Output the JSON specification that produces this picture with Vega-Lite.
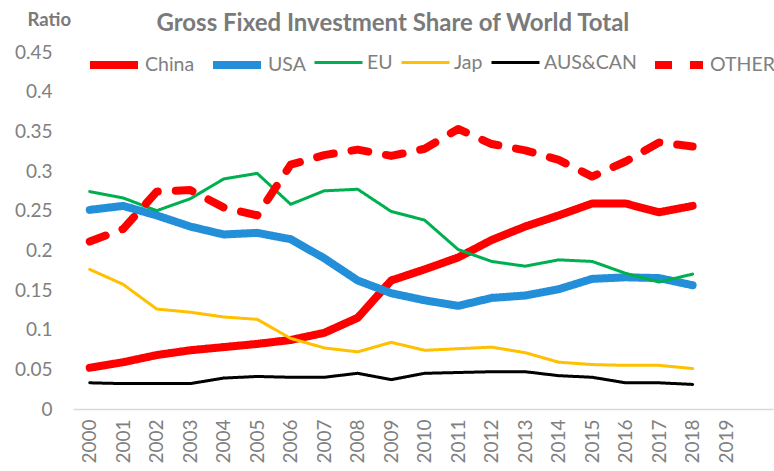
{
  "$schema": "https://vega.github.io/schema/vega-lite/v6.json",
  "width": 700,
  "height": 357,
  "autosize": {"type": "none"},
  "padding": {"left": 73, "top": 52, "right": 1, "bottom": 62},
  "background": "white",
  "title": {
    "text": "Gross Fixed Investment Share of World Total",
    "anchor": "start",
    "dx": 142,
    "offset": -26,
    "font": "Lato",
    "fontSize": 24,
    "fontWeight": "bold",
    "color": "#7a7a7a"
  },
  "config": {
    "view": {"stroke": null},
    "font": "Lato"
  },
  "data": {"values": [
    {"year":2000,"region":"China","value":0.052},{"year":2001,"region":"China","value":0.059},{"year":2002,"region":"China","value":0.068},{"year":2003,"region":"China","value":0.074},{"year":2004,"region":"China","value":0.078},{"year":2005,"region":"China","value":0.082},{"year":2006,"region":"China","value":0.087},{"year":2007,"region":"China","value":0.096},{"year":2008,"region":"China","value":0.115},{"year":2009,"region":"China","value":0.162},{"year":2010,"region":"China","value":0.176},{"year":2011,"region":"China","value":0.191},{"year":2012,"region":"China","value":0.213},{"year":2013,"region":"China","value":0.230},{"year":2014,"region":"China","value":0.244},{"year":2015,"region":"China","value":0.259},{"year":2016,"region":"China","value":0.259},{"year":2017,"region":"China","value":0.248},{"year":2018,"region":"China","value":0.256},
    {"year":2000,"region":"USA","value":0.251},{"year":2001,"region":"USA","value":0.256},{"year":2002,"region":"USA","value":0.244},{"year":2003,"region":"USA","value":0.230},{"year":2004,"region":"USA","value":0.220},{"year":2005,"region":"USA","value":0.222},{"year":2006,"region":"USA","value":0.214},{"year":2007,"region":"USA","value":0.190},{"year":2008,"region":"USA","value":0.162},{"year":2009,"region":"USA","value":0.146},{"year":2010,"region":"USA","value":0.137},{"year":2011,"region":"USA","value":0.130},{"year":2012,"region":"USA","value":0.140},{"year":2013,"region":"USA","value":0.143},{"year":2014,"region":"USA","value":0.151},{"year":2015,"region":"USA","value":0.164},{"year":2016,"region":"USA","value":0.166},{"year":2017,"region":"USA","value":0.165},{"year":2018,"region":"USA","value":0.156},
    {"year":2000,"region":"EU","value":0.274},{"year":2001,"region":"EU","value":0.266},{"year":2002,"region":"EU","value":0.250},{"year":2003,"region":"EU","value":0.265},{"year":2004,"region":"EU","value":0.290},{"year":2005,"region":"EU","value":0.297},{"year":2006,"region":"EU","value":0.258},{"year":2007,"region":"EU","value":0.275},{"year":2008,"region":"EU","value":0.277},{"year":2009,"region":"EU","value":0.249},{"year":2010,"region":"EU","value":0.238},{"year":2011,"region":"EU","value":0.201},{"year":2012,"region":"EU","value":0.186},{"year":2013,"region":"EU","value":0.180},{"year":2014,"region":"EU","value":0.188},{"year":2015,"region":"EU","value":0.186},{"year":2016,"region":"EU","value":0.171},{"year":2017,"region":"EU","value":0.160},{"year":2018,"region":"EU","value":0.170},
    {"year":2000,"region":"Jap","value":0.176},{"year":2001,"region":"Jap","value":0.157},{"year":2002,"region":"Jap","value":0.126},{"year":2003,"region":"Jap","value":0.122},{"year":2004,"region":"Jap","value":0.116},{"year":2005,"region":"Jap","value":0.113},{"year":2006,"region":"Jap","value":0.089},{"year":2007,"region":"Jap","value":0.077},{"year":2008,"region":"Jap","value":0.072},{"year":2009,"region":"Jap","value":0.084},{"year":2010,"region":"Jap","value":0.074},{"year":2011,"region":"Jap","value":0.076},{"year":2012,"region":"Jap","value":0.078},{"year":2013,"region":"Jap","value":0.071},{"year":2014,"region":"Jap","value":0.059},{"year":2015,"region":"Jap","value":0.056},{"year":2016,"region":"Jap","value":0.055},{"year":2017,"region":"Jap","value":0.055},{"year":2018,"region":"Jap","value":0.051},
    {"year":2000,"region":"AUS&CAN","value":0.033},{"year":2001,"region":"AUS&CAN","value":0.032},{"year":2002,"region":"AUS&CAN","value":0.032},{"year":2003,"region":"AUS&CAN","value":0.032},{"year":2004,"region":"AUS&CAN","value":0.039},{"year":2005,"region":"AUS&CAN","value":0.041},{"year":2006,"region":"AUS&CAN","value":0.040},{"year":2007,"region":"AUS&CAN","value":0.040},{"year":2008,"region":"AUS&CAN","value":0.045},{"year":2009,"region":"AUS&CAN","value":0.037},{"year":2010,"region":"AUS&CAN","value":0.045},{"year":2011,"region":"AUS&CAN","value":0.046},{"year":2012,"region":"AUS&CAN","value":0.047},{"year":2013,"region":"AUS&CAN","value":0.047},{"year":2014,"region":"AUS&CAN","value":0.042},{"year":2015,"region":"AUS&CAN","value":0.040},{"year":2016,"region":"AUS&CAN","value":0.033},{"year":2017,"region":"AUS&CAN","value":0.033},{"year":2018,"region":"AUS&CAN","value":0.031},
    {"year":2000,"region":"OTHER","value":0.211},{"year":2001,"region":"OTHER","value":0.227},{"year":2002,"region":"OTHER","value":0.274},{"year":2003,"region":"OTHER","value":0.276},{"year":2004,"region":"OTHER","value":0.254},{"year":2005,"region":"OTHER","value":0.244},{"year":2006,"region":"OTHER","value":0.308},{"year":2007,"region":"OTHER","value":0.320},{"year":2008,"region":"OTHER","value":0.327},{"year":2009,"region":"OTHER","value":0.319},{"year":2010,"region":"OTHER","value":0.328},{"year":2011,"region":"OTHER","value":0.353},{"year":2012,"region":"OTHER","value":0.334},{"year":2013,"region":"OTHER","value":0.326},{"year":2014,"region":"OTHER","value":0.314},{"year":2015,"region":"OTHER","value":0.293},{"year":2016,"region":"OTHER","value":0.312},{"year":2017,"region":"OTHER","value":0.336},{"year":2018,"region":"OTHER","value":0.331}
  ]},
  "mark": {"type": "line", "strokeCap": "round", "strokeJoin": "round"},
  "encoding": {
    "x": {
      "field": "year",
      "type": "quantitative",
      "scale": {"domain": [1999.5, 2020.4], "nice": false, "zero": false},
      "axis": {
        "values": [2000,2001,2002,2003,2004,2005,2006,2007,2008,2009,2010,2011,2012,2013,2014,2015,2016,2017,2018,2019],
        "format": "d",
        "title": null,
        "labelAngle": -90,
        "labelFont": "Lato",
        "labelFontSize": 19,
        "labelColor": "#808080",
        "labelPadding": 10,
        "ticks": false,
        "grid": false,
        "domainColor": "#d9d9d9",
        "domainWidth": 1.5,
        "labelFlush": false,
        "labelOverlap": false
      }
    },
    "y": {
      "field": "value",
      "type": "quantitative",
      "scale": {"domain": [0, 0.45], "nice": false},
      "axis": {
        "values": [0,0.05,0.1,0.15,0.2,0.25,0.3,0.35,0.4,0.45],
        "labelExpr": "'' + datum.value",
        "title": "Ratio",
        "titleAngle": 0,
        "titleAlign": "left",
        "titleBaseline": "alphabetic",
        "titleX": -46,
        "titleY": -27,
        "titleFont": "Lato",
        "titleFontSize": 18.5,
        "titleFontWeight": "bold",
        "titleColor": "#7a7a7a",
        "labelFont": "Lato",
        "labelFontSize": 19,
        "labelColor": "#808080",
        "labelPadding": 21,
        "ticks": false,
        "domain": false,
        "grid": false,
        "labelOverlap": false
      }
    },
    "color": {
      "field": "region",
      "type": "nominal",
      "scale": {
        "domain": ["China","USA","EU","Jap","AUS&CAN","OTHER"],
        "range": ["#ff0000","#238fd8","#00b050","#ffc000","#000000","#ff0000"]
      },
      "legend": {
        "title": null,
        "orient": "none",
        "direction": "horizontal",
        "legendX": 13,
        "legendY": -15,
        "symbolType": "stroke",
        "symbolSize": 2304,
        "labelFont": "Lato",
        "labelFontSize": 19.5,
        "labelColor": "#808080",
        "labelOffset": 3,
        "columnPadding": 2,
        "gridAlign": "none"
      }
    },
    "strokeDash": {
      "field": "region",
      "type": "nominal",
      "scale": {
        "domain": ["China","USA","EU","Jap","AUS&CAN","OTHER"],
        "range": [[1,0],[1,0],[1,0],[1,0],[1,0],[17,18]]
      },
      "legend": {"title": null}
    },
    "strokeWidth": {
      "field": "region",
      "type": "ordinal",
      "scale": {
        "type": "ordinal",
        "domain": ["China","USA","EU","Jap","AUS&CAN","OTHER"],
        "range": [8,8,3,3,3,8]
      },
      "legend": {"title": null}
    }
  }
}
